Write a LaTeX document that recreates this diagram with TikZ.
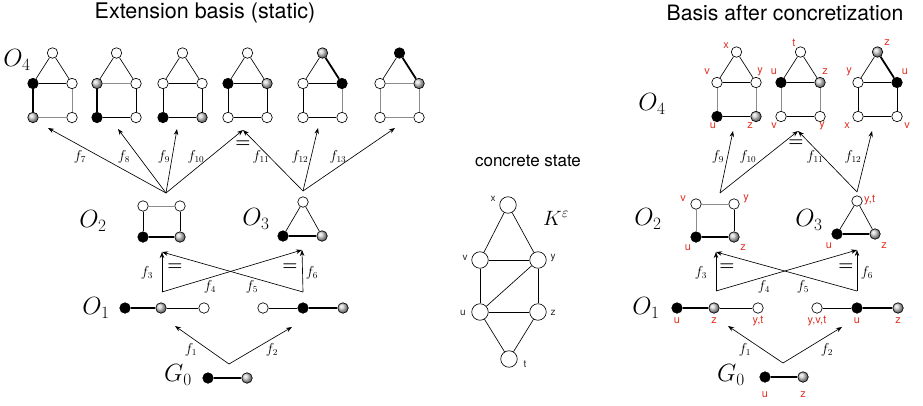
\documentclass[tikz,border=0pt]{standalone}
\usepackage{fontspec}
\setsansfont{TeX Gyre Heros}
\usetikzlibrary{arrows.meta}
\definecolor{lab}{RGB}{225,45,30}
\newcommand{\house}[8]{%
  \node[#4] (#1t) at (#2+19.5,#3) {};
  \node[#5] (#1l) at (#2,#3+30.5) {};
  \node[#6] (#1r) at (#2+39,#3+30.5) {};
  \node[#7] (#1bl) at (#2,#3+64.5) {};
  \node[#8] (#1br) at (#2+39,#3+64.5) {};}
\newcommand{\hedges}[7]{%
  \draw[#2] (#1t) -- (#1l);
  \draw[#3] (#1t) -- (#1r);
  \draw[#4] (#1l) -- (#1r);
  \draw[#5] (#1l) -- (#1bl);
  \draw[#6] (#1r) -- (#1br);
  \draw[#7] (#1bl) -- (#1br);}
\begin{document}
\begin{tikzpicture}[x=1pt,y=-1pt,
  vx/.style={circle,draw,line width=0.65pt,minimum size=10.5pt,inner sep=0pt,fill=white},
  vw/.style={vx},
  vb/.style={vx,fill=black},
  vg/.style={vx,ball color=gray!38},
  ed/.style={line width=0.65pt},
  et/.style={line width=1.8pt},
  eg/.style={line width=0.85pt,black!45},
  ar/.style={-{Stealth[length=6pt,width=4.5pt]},line width=0.65pt},
  fl/.style={font=\fontsize{13.5}{13.5}\selectfont,inner sep=0pt},
  eq/.style={font=\fontsize{16}{16}\selectfont\boldmath,inner sep=0pt},
  ol/.style={font=\fontsize{24}{24}\selectfont,inner sep=0pt},
  rl/.style={font=\sffamily\fontsize{11}{11}\selectfont,text=lab,inner sep=0pt},
  cl/.style={font=\sffamily\fontsize{10}{10}\selectfont,text=black!85,inner sep=0pt},
  cv/.style={circle,draw,line width=0.65pt,minimum size=16.5pt,inner sep=0pt,fill=white},
  ttl/.style={font=\sffamily\fontsize{21.5}{21.5}\selectfont,inner sep=0pt}]
\useasboundingbox (0,0) rectangle (923,405);

% ---------------- titles
\node[ttl] (t1) at (205,13) {Extension basis (static)};
\node[ttl,font=\sffamily\fontsize{21.2}{21.2}\selectfont] (t2) at (785,13) {Basis after concretization};
\node[font=\sffamily\fontsize{17}{17}\selectfont,inner sep=0pt] (t3) at (528,161) {concrete state};

% ---------------- left panel
\node[ol] (lO4) at (17,60) {$O_4$};
\house{hA}{33}{53}{vw}{vb}{vw}{vg}{vw}
\hedges{hA}{ed}{ed}{ed}{et}{eg}{eg}
\house{hB}{97}{53}{vw}{vg}{vw}{vb}{vw}
\hedges{hB}{ed}{ed}{eg}{et}{ed}{ed}
\house{hC}{163}{53}{vw}{vw}{vw}{vb}{vg}
\hedges{hC}{ed}{ed}{ed}{ed}{ed}{et}
\house{hD}{228}{53}{vw}{vb}{vg}{vw}{vw}
\hedges{hD}{ed}{ed}{et}{ed}{ed}{ed}
\house{hE}{303}{53}{vg}{vw}{vb}{vw}{vw}
\hedges{hE}{ed}{et}{ed}{ed}{eg}{ed}
\house{hF}{380}{53}{vb}{vw}{vg}{vw}{vw}
\hedges{hF}{ed}{et}{eg}{eg}{eg}{eg}

\coordinate (s2) at (166,193);
\coordinate (s3) at (303,191);
\coordinate (k7) at (48,128);
\coordinate (k8) at (118,129);
\coordinate (k9) at (177,129);
\coordinate (k10) at (243,130);
\coordinate (k12) at (318,128);
\coordinate (k13) at (395,128);
\draw[ar] (s2) -- (k7);
\draw[ar] (s2) -- (k8);
\draw[ar] (s2) -- (k9);
\draw[ar] (s2) -- (k10);
\draw[ar] (s3) -- (k10);
\draw[ar] (s3) -- (k12);
\draw[ar] (s3) -- (k13);
\node[fl] (lf7) at (80,157) {$f_7$};
\node[fl] (lf8) at (124,157) {$f_8$};
\node[fl] (lf9) at (164,157) {$f_9$};
\node[fl] (lf10) at (196,157) {$f_{10}$};
\node[eq] (leq1) at (243,144) {$=$};
\node[fl] (lf11) at (261,157) {$f_{11}$};
\node[fl] (lf12) at (300,157) {$f_{12}$};
\node[fl] (lf13) at (338,157) {$f_{13}$};

% O2, O3
\node[ol] (lO2) at (93,221) {$O_2$};
\node[vw] (q1) at (143,206) {};
\node[vw] (q2) at (180,206) {};
\node[vb] (q3) at (143,237) {};
\node[vg] (q4) at (180,237) {};
\draw[eg] (q1) -- (q2);
\draw[ed] (q1) -- (q3);
\draw[ed] (q2) -- (q4);
\draw[et] (q3) -- (q4);
\node[ol] (lO3) at (256,219) {$O_3$};
\node[vw] (r1) at (303,202) {};
\node[vb] (r2) at (283,236) {};
\node[vg] (r3) at (322,236) {};
\draw[ed] (r1) -- (r2);
\draw[ed] (r1) -- (r3);
\draw[et] (r2) -- (r3);

% O1 -> O2/O3 arrows
\coordinate (p1) at (162,292);
\coordinate (p2) at (303,292);
\coordinate (p3) at (162,252);
\coordinate (p4) at (302,250);
\draw[ar] (p1) -- (p3);
\draw[ar] (p1) -- (p4);
\draw[ar] (p2) -- (p3);
\draw[ar] (p2) -- (p4);
\node[fl] (lf3) at (147,273) {$f_3$};
\node[eq] (leq2) at (175,267) {$=$};
\node[fl] (lf4) at (210,287) {$f_4$};
\node[fl] (lf5) at (252,287) {$f_5$};
\node[eq] (leq3) at (290,267) {$=$};
\node[fl] (lf6) at (312,273) {$f_6$};

% O1
\node[ol] (lO1) at (96,308) {$O_1$};
\node[vb] (o1) at (125,308) {};
\node[vg] (o2) at (161,308) {};
\node[vw] (o3) at (204,308) {};
\node[vw] (o4) at (263,308) {};
\node[vb] (o5) at (303,308) {};
\node[vg] (o6) at (343,308) {};
\draw[et] (o1) -- (o2);
\draw[ed] (o2) -- (o3);
\draw[ed] (o4) -- (o5);
\draw[et] (o5) -- (o6);

% G0
\coordinate (g0s) at (229,364);
\coordinate (g0a) at (175,326);
\coordinate (g0b) at (292,327);
\draw[ar] (g0s) -- (g0a);
\draw[ar] (g0s) -- (g0b);
\node[fl] (lf1) at (191,350) {$f_1$};
\node[fl] (lf2) at (272,350) {$f_2$};
\node[ol] (lG0) at (178,375) {$G_0$};
\node[vb] (g1) at (208,378) {};
\node[vg] (g2) at (247,378) {};
\draw[et] (g1) -- (g2);

% ---------------- middle: concrete state
\node[font=\fontsize{21}{21}\selectfont,inner sep=0pt] (K) at (556,218) {$K^\varepsilon$};
\node[cv] (cx) at (508,205) {};
\node[cv] (cvv) at (480,260) {};
\node[cv] (cy) at (538,260) {};
\node[cv] (cu) at (480,312) {};
\node[cv] (cz) at (538,312) {};
\node[cv] (ct) at (509,359) {};
\draw[ed] (cx) -- (cvv);
\draw[ed] (cx) -- (cy);
\draw[ed] (cvv) -- (cy);
\draw[ed] (cvv) -- (cu);
\draw[ed] (cy) -- (cu);
\draw[ed] (cy) -- (cz);
\draw[ed] (cu) -- (cz);
\draw[ed] (cu) -- (ct);
\draw[ed] (cz) -- (ct);
\node[cl] (clx) at (493,199) {x};
\node[cl] (clv) at (465,258) {v};
\node[cl] (cly) at (553,258) {y};
\node[cl] (clu) at (463,313) {u};
\node[cl] (clz) at (553,313) {z};
\node[cl] (clt) at (525,364) {t};

% ---------------- right panel
\node[ol] (rO4) at (652,104) {$O_4$};
\house{rA}{717}{52}{vw}{vw}{vw}{vb}{vg}
\hedges{rA}{ed}{ed}{ed}{eg}{eg}{et}
\house{rB}{781}{52}{vw}{vb}{vg}{vw}{vw}
\hedges{rB}{ed}{ed}{et}{eg}{eg}{ed}
\house{rC}{858}{52}{vg}{vw}{vb}{vw}{vw}
\hedges{rC}{ed}{et}{ed}{ed}{ed}{ed}
\node[rl] (la1) at (726,46) {x};
\node[rl] (la2) at (707,72) {v};
\node[rl] (la3) at (760,72) {y};
\node[rl] (la4) at (713,126) {u};
\node[rl] (la5) at (750,126) {z};
\node[rl] (lb1) at (794,43) {t};
\node[rl] (lb2) at (774,72) {u};
\node[rl] (lb3) at (825,72) {z};
\node[rl] (lb4) at (774,126) {v};
\node[rl] (lb5) at (822,126) {y};
\node[rl] (lc1) at (887,43) {z};
\node[rl] (lc2) at (849,72) {y};
\node[rl] (lc3) at (905,72) {u};
\node[rl] (lc4) at (847,126) {x};
\node[rl] (lc5) at (907,126) {v};

\coordinate (rs2) at (720,193);
\coordinate (rs3) at (857,192);
\coordinate (rk9) at (733,131);
\coordinate (rk10) at (798,131);
\coordinate (rk12) at (872,131);
\draw[ar] (rs2) -- (rk9);
\draw[ar] (rs2) -- (rk10);
\draw[ar] (rs3) -- (rk10);
\draw[ar] (rs3) -- (rk12);
\node[fl] (rf9) at (718,157) {$f_9$};
\node[fl] (rf10) at (748,157) {$f_{10}$};
\node[eq] (req1) at (796,143) {$=$};
\node[fl] (rf11) at (815,157) {$f_{11}$};
\node[fl] (rf12) at (853,157) {$f_{12}$};

\node[ol] (rO2) at (648,219) {$O_2$};
\node[vw] (rq1) at (696,204) {};
\node[vw] (rq2) at (734,204) {};
\node[vb] (rq3) at (696,237) {};
\node[vg] (rq4) at (734,237) {};
\draw[eg] (rq1) -- (rq2);
\draw[eg] (rq1) -- (rq3);
\draw[ed] (rq2) -- (rq4);
\draw[et] (rq3) -- (rq4);
\node[rl] (lq1) at (683,199) {v};
\node[rl] (lq2) at (746,199) {y};
\node[rl] (lq3) at (688,248) {u};
\node[rl] (lq4) at (743,248) {z};
\node[ol] (rO3) at (809,220) {$O_3$};
\node[vw] (rr1) at (857,201) {};
\node[vb] (rr2) at (837,234) {};
\node[vg] (rr3) at (875,234) {};
\draw[ed] (rr1) -- (rr2);
\draw[ed] (rr1) -- (rr3);
\draw[et] (rr2) -- (rr3);
\node[rl,anchor=west] (lr1) at (864,200) {y,t};
\node[rl] (lr2) at (829,246) {u};
\node[rl] (lr3) at (884,246) {z};

\coordinate (rp1) at (716,291);
\coordinate (rp2) at (857,291);
\coordinate (rp3) at (716,252);
\coordinate (rp4) at (857,250);
\draw[ar] (rp1) -- (rp3);
\draw[ar] (rp1) -- (rp4);
\draw[ar] (rp2) -- (rp3);
\draw[ar] (rp2) -- (rp4);
\node[fl] (rf3) at (701,273) {$f_3$};
\node[eq] (req2) at (727,267) {$=$};
\node[fl] (rf4) at (764,287) {$f_4$};
\node[fl] (rf5) at (803,287) {$f_5$};
\node[eq] (req3) at (846,267) {$=$};
\node[fl] (rf6) at (867,273) {$f_6$};

\node[ol] (rO1) at (646,308) {$O_1$};
\node[vb] (ro1) at (677,308) {};
\node[vg] (ro2) at (714,308) {};
\node[vw] (ro3) at (758,308) {};
\node[vw] (ro4) at (817,308) {};
\node[vb] (ro5) at (857,308) {};
\node[vg] (ro6) at (898,308) {};
\draw[et] (ro1) -- (ro2);
\draw[ed] (ro2) -- (ro3);
\draw[ed] (ro4) -- (ro5);
\draw[et] (ro5) -- (ro6);
\node[rl] (lo1) at (677,321) {u};
\node[rl] (lo2) at (714,321) {z};
\node[rl] (lo3) at (758,321) {y,t};
\node[rl] (lo4) at (817,321) {y,v,t};
\node[rl] (lo5) at (857,321) {u};
\node[rl] (lo6) at (898,321) {z};

\coordinate (rg0s) at (783,363);
\coordinate (rg0a) at (728,326);
\coordinate (rg0b) at (842,327);
\draw[ar] (rg0s) -- (rg0a);
\draw[ar] (rg0s) -- (rg0b);
\node[fl] (rf1) at (745,350) {$f_1$};
\node[fl] (rf2) at (827,350) {$f_2$};
\node[ol] (rG0) at (731,375) {$G_0$};
\node[vb] (rg1) at (765,377) {};
\node[vg] (rg2) at (803,377) {};
\draw[et] (rg1) -- (rg2);
\node[rl] (lg1) at (765,395) {u};
\node[rl] (lg2) at (803,395) {z};
\end{tikzpicture}
\end{document}
